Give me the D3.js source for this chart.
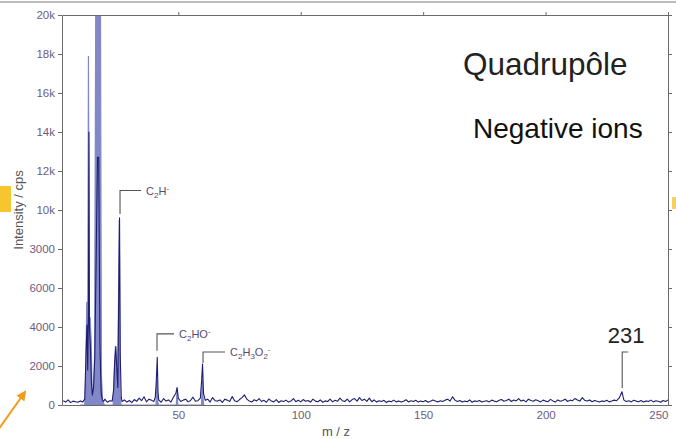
<!DOCTYPE html>
<html><head><meta charset="utf-8">
<script src="https://cdn.jsdelivr.net/npm/d3@7"></script>
<style>html,body{margin:0;padding:0;background:#fff;}svg{display:block;}</style>
</head><body>
<svg id="chart" width="676" height="439"></svg>
<script>
// ---- data ----
const xTickValues = [50, 100, 150, 200, 250];
const xTickLabels = ["50", "100", "150", "200", "250"];
const yTickValues = [0, 2000, 4000, 6000, 8000, 10000, 12000, 14000, 16000, 18000, 20000];
const yTickLabels = ["0", "2000", "4000", "6000", "3000", "10k", "12k", "14k", "16k", "18k", "20k"];

// broad (light) trace: [m/z, cps]
const lightTrace = [[10,0],[11.8,0],[12.2,1500],[12.6,5300],[13.0,2500],[13.3,17900],[13.6,4200],[14.0,4500],[14.4,3300],[14.8,800],[15.3,400],[15.8,2500],[16.3,21000],[18.2,21000],[18.6,1500],[19.1,200],[19.8,0],[23.4,0],[23.8,1400],[24.3,3000],[24.7,1500],[25.2,600],[25.9,9500],[26.2,500],[26.6,0],[40.9,0],[41.2,1300],[41.5,400],[41.8,0],[49.2,0],[49.5,800],[49.8,0],[59.5,0],[59.8,1300],[60.1,300],[60.4,0]];

// narrow (dark) trace: [m/z, cps]
const darkTrace = [[3,220],[4,150],[5,260],[6,120],[7,200],[8,170],[9,140],[10,210],[11,160],[11.8,300],[12.3,2600],[12.7,4100],[13.0,1800],[13.3,5000],[13.5,14000],[13.7,4000],[14.1,3000],[14.5,1200],[14.9,500],[15.4,900],[15.9,2500],[16.5,8000],[17.0,12700],[17.5,12700],[18.0,3000],[18.5,600],[19.0,250],[19.5,180],[20,300],[21,140],[22,220],[23,200],[23.6,800],[24,2200],[24.5,3000],[24.9,1800],[25.3,900],[26.0,9600],[26.3,2500],[26.7,400],[27,180],[28,260],[29,150],[30,230],[31,120],[32,280],[33,190],[34,350],[35,220],[36,420],[37,160],[38,300],[39,250],[40,180],[40.6,400],[41,1200],[41.4,2450],[41.7,700],[42,260],[43,140],[44,330],[45,200],[46,260],[47,150],[48,400],[49,600],[49.5,900],[50,350],[51,180],[52,250],[53,300],[54,160],[55,230],[56,400],[57,190],[58,220],[59,350],[59.5,1200],[59.9,2100],[60.3,600],[61,240],[62,300],[63,150],[64,380],[65,220],[66,200],[67,260],[68,130],[69,300],[70,250],[71,180],[72,430],[73,220],[74,170],[75,280],[76,380],[77,520],[78,300],[79,200],[80,150],[81,270],[82,210],[83,330],[84,180],[85,240],[86,140],[87,310],[88,200],[89,160],[90,280],[91,130],[92,220],[93,180],[94,250],[95,150],[96,200],[97,330],[98,170],[99,240],[100,160],[101,280],[102,190],[103,230],[104,150],[105,300],[106,200],[107,170],[108,260],[109,140],[110,210],[111,180],[112,300],[113,160],[114,240],[115,190],[116,350],[117,220],[118,180],[119,300],[120,160],[121,280],[122,330],[123,200],[124,380],[125,230],[126,300],[127,190],[128,350],[129,170],[130,260],[131,150],[132,220],[133,180],[134,240],[135,130],[136,200],[137,170],[138,250],[139,160],[140,210],[141,150],[142,190],[143,270],[144,160],[145,220],[146,180],[147,240],[148,150],[149,200],[150,170],[151,230],[152,140],[153,190],[154,260],[155,200],[156,160],[157,220],[158,180],[159,250],[160,300],[161,200],[162,420],[163,250],[164,180],[165,230],[166,150],[167,200],[168,170],[169,260],[170,140],[171,210],[172,180],[173,230],[174,150],[175,190],[176,220],[177,160],[178,250],[179,200],[180,170],[181,240],[182,280],[183,190],[184,230],[185,300],[186,180],[187,260],[188,210],[189,330],[190,200],[191,250],[192,160],[193,300],[194,230],[195,190],[196,270],[197,220],[198,160],[199,250],[200,200],[201,170],[202,290],[203,210],[204,150],[205,260],[206,190],[207,230],[208,300],[209,180],[210,250],[211,220],[212,330],[213,260],[214,200],[215,380],[216,240],[217,200],[218,260],[219,170],[220,230],[221,190],[222,150],[223,210],[224,180],[225,240],[226,160],[227,200],[228,250],[229,220],[230,350],[230.6,500],[231.2,680],[231.6,450],[232,250],[233,180],[234,220],[235,160],[236,240],[237,200],[238,170],[239,230],[240,150],[241,210],[242,180],[243,250],[244,160],[245,220],[246,190],[247,140],[248,230],[249,180],[250,260]];

// peak annotations
const annotMz     = [26.2, 41.3, 60.1, 231.3];
const annotTop    = [11000, 3650, 2720, 2720];
const annotBottom = [9800, 2780, 2150, 870];
const annotArm    = [21, 17, 22, 6];
const annotParts  = [
  [["C",""],["2","sub"],["H",""],["-","sup"]],
  [["C",""],["2","sub"],["HO",""],["-","sup"]],
  [["C",""],["2","sub"],["H",""],["3","sub"],["O",""],["2","sub"],["-","sup"]],
  [["231",""]]
];

(function () {
// ---- layout ----
const svg = d3.select("#chart");
const pL = 62, pR = 668, pT = 15, pB = 405;
const x = d3.scaleLinear().domain([2.5, 250]).range([pL, pR]);
const y = d3.scaleLinear().domain([0, 20000]).range([pB, pT]);

const axisCol = "#6a6a6a";
const tickTextCol = "#6e5c80";
const font = "Liberation Sans, Arial, sans-serif";

// slide decorations
svg.append("line").attr("x1", 0).attr("x2", 676).attr("y1", 2).attr("y2", 2).attr("stroke", "#777").attr("stroke-width", 1);
svg.append("rect").attr("x", 0).attr("y", 186).attr("width", 11).attr("height", 26).attr("fill", "#f6c530");
svg.append("rect").attr("x", 672).attr("y", 197).attr("width", 4).attr("height", 12).attr("fill", "#f6d060");

const defs = svg.append("defs");
defs.append("clipPath").attr("id", "plotclip")
  .append("rect").attr("x", pL).attr("y", pT).attr("width", pR - pL).attr("height", pB - pT);

const g = svg.append("g").attr("clip-path", "url(#plotclip)");

const area = d3.area().x(d => x(d[0])).y0(y(0)).y1(d => y(d[1]));
const line = d3.line().x(d => x(d[0])).y(d => y(d[1]));

g.append("path").datum(lightTrace).attr("d", area).attr("fill", "#8287c8").attr("stroke", "#8287c8").attr("stroke-width", 1.2);
g.append("path").datum(darkTrace).attr("d", line).attr("fill", "none").attr("stroke", "#1e1e6e").attr("stroke-width", 1.1).attr("stroke-linejoin", "round");

// axes
const yLeft = d3.axisLeft(y).tickValues(yTickValues).tickFormat((d, i) => yTickLabels[i]).tickSize(4).tickSizeOuter(0).tickPadding(3);
const gy = svg.append("g").attr("transform", `translate(${pL},0)`).call(yLeft);
const yRight = d3.axisRight(y).tickValues(yTickValues).tickFormat("").tickSize(4).tickSizeOuter(0);
const gyr = svg.append("g").attr("transform", `translate(${pR},0)`).call(yRight);
const xTop = d3.axisTop(x).tickValues(xTickValues).tickFormat("").tickSize(3).tickSizeOuter(0);
const gxt = svg.append("g").attr("transform", `translate(0,${pT})`).call(xTop);
const xBottom = d3.axisBottom(x).tickValues(xTickValues).tickFormat((d, i) => xTickLabels[i]).tickSize(0).tickSizeOuter(0).tickPadding(6);
const gxb = svg.append("g").attr("transform", `translate(0,${pB})`).call(xBottom);

[gy, gyr, gxt, gxb].forEach(a => {
  a.selectAll(".domain").attr("stroke", axisCol);
  a.selectAll(".tick line").attr("stroke", axisCol);
  a.selectAll("text").attr("fill", tickTextCol).attr("font-family", font).attr("font-size", 11.5);
});
gxb.selectAll(".tick text").filter(d => d === 250).attr("text-anchor", "end").attr("dx", 0);

// axis titles
svg.append("text").attr("transform", `translate(23,${(pT + pB) / 2}) rotate(-90)`).attr("text-anchor", "middle")
  .attr("font-family", font).attr("font-size", 13).attr("fill", "#555").text("Intensity / cps");
svg.append("text").attr("x", 336).attr("y", 436).attr("text-anchor", "middle")
  .attr("font-family", font).attr("font-size", 13).attr("fill", "#555").text("m / z");

// titles
svg.append("text").attr("x", 463).attr("y", 75).attr("font-family", font).attr("font-size", 31.5).attr("fill", "#222").text("Quadrupôle");
svg.append("text").attr("x", 473).attr("y", 138).attr("font-family", font).attr("font-size", 28).attr("fill", "#111").text("Negative ions");

// annotations
annotMz.forEach((mz, i) => {
  const xs = x(mz), yt = y(annotTop[i]), yb = y(annotBottom[i]);
  svg.append("path").attr("d", `M${xs},${yb}V${yt}H${xs + annotArm[i]}`).attr("fill", "none").attr("stroke", "#555").attr("stroke-width", 1.1);
  const isBig = i === 3;
  const t = svg.append("text").attr("font-family", font)
    .attr("fill", isBig ? "#222" : "#5a4a6e").attr("font-size", isBig ? 22 : 11);
  if (isBig) {
    t.attr("x", xs + annotArm[i] - 2).attr("y", yt - 9).attr("text-anchor", "middle");
  } else {
    t.attr("x", xs + annotArm[i] + 5).attr("y", yt + 4);
  }
  let shift = 0;
  annotParts[i].forEach(([s, kind]) => {
    const target = kind === "sub" ? 3 : kind === "sup" ? -4 : 0;
    const sp = t.append("tspan").text(s).attr("dy", target - shift);
    if (kind) sp.attr("font-size", 8);
    shift = target;
  });
});

// orange arrow (slide decoration)
defs.append("marker").attr("id", "ah").attr("viewBox", "0 0 10 10").attr("refX", 8).attr("refY", 5)
  .attr("markerWidth", 5).attr("markerHeight", 5).attr("orient", "auto")
  .append("path").attr("d", "M0,0L10,5L0,10z").attr("fill", "#f39a1e");
svg.append("line").attr("x1", -2).attr("y1", 430).attr("x2", 25).attr("y2", 392)
  .attr("stroke", "#f39a1e").attr("stroke-width", 2).attr("marker-end", "url(#ah)");
})();
</script>
</body></html>
